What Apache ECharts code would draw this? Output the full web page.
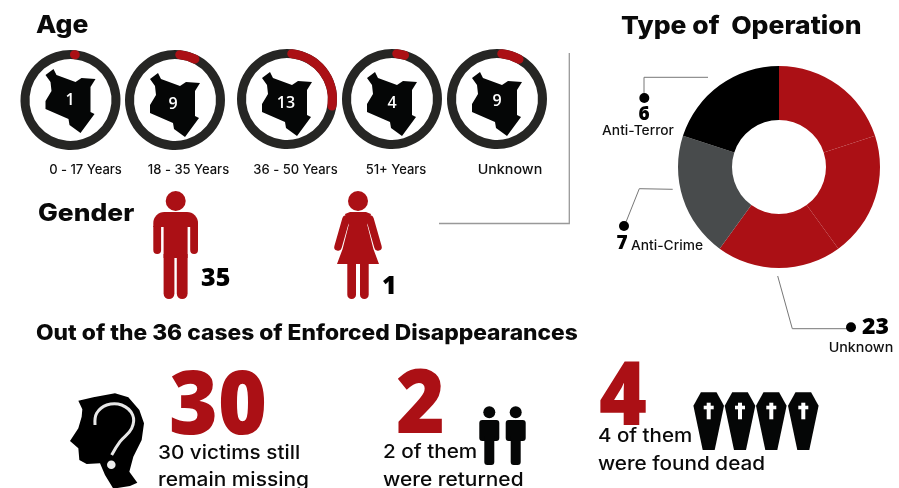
<!DOCTYPE html>
<html>
<head>
<meta charset="utf-8">
<title>Enforced Disappearances</title>
<script src="https://cdn.jsdelivr.net/npm/echarts@6/dist/echarts.min.js"></script>
<style>
  html, body { margin: 0; padding: 0; background: #fff; }
  #chart { width: 899px; height: 488px; }
</style>
</head>
<body>
<div id="chart"></div>
<script>
// age rings
var ageGroups = ['0 - 17 Years', '18 - 35 Years', '36 - 50 Years', '51+ Years', 'Unknown']
var ageCounts = [1, 9, 13, 4, 9]
// red arc length as drawn in the picture, degrees of the ring
var ageArcs = [1, 20, 93, 10, 23]

// type of operation
var operationNames = ['Unknown', 'Unknown', 'Unknown', 'Anti-Crime', 'Anti-Terror']
var operationSlices = [72, 72, 72, 72, 72]
var operationCounts = { unknown: 23, crime: 7, terror: 6 }

var genderCounts = [35, 1]
var outcomeCounts = [30, 2, 4]

var RED = '#ab1015'
var DARK = '#262624'
var BLACK = '#050606'
var sliceColors = [RED, RED, RED, '#484b4c', '#000000']
var HEAD = 'Inter'
var BODY = 'Inter'
var NUM = '"Open Sans"'

var ringX = [70.5, 175, 287, 392, 497]
var ringY = [100, 100, 99, 99, 99]
var mapDy = [-4, 0, 0, 0, 0]
var numX = [70, 173, 286, 392, 497]
var numY = [100, 104, 103, 103, 101]
var ageLabelX = [85.5, 188.5, 295.5, 396, 510]
var ageLabelScale = [1, 1, 1, 1, 1.1]

// kenya outline, relative to ring centre
var kenya = [[-17,-27],[-14,-21],[5,-14],[11,-18],[25,-17],[20,-9],[20,16],[24,18],[10,37],[-1,29],[-2,23],[-25,13],[-25,5],[-19,-5],[-20,-14],[-25,-21]]

var g = []

function text(x, y, str, size, weight, family, color, align, sx) {
  g.push({
    type: 'text', x: x, y: y, z: 20, scaleX: sx || 1,
    style: {
      text: String(str), fontSize: size, fontWeight: weight, fontFamily: family,
      fill: color || '#0a0a0a', align: align || 'left', verticalAlign: 'middle'
    }
  })
}
function rect(x, y, w, h, r, color) {
  g.push({ type: 'rect', z: 10, shape: { x: x, y: y, width: w, height: h, r: r || 0 }, style: { fill: color } })
}
function circle(x, y, r, color) {
  g.push({ type: 'circle', z: 10, shape: { cx: x, cy: y, r: r }, style: { fill: color } })
}
function poly(points, color) {
  g.push({ type: 'polygon', z: 10, shape: { points: points }, style: { fill: color } })
}
function line(points, color, width, cap) {
  g.push({ type: 'polyline', z: 10, shape: { points: points }, style: { stroke: color, lineWidth: width, fill: null, lineCap: cap || 'butt' } })
}

// titles
text(36, 25.5, 'Age', 25, 800, HEAD, null, 'left', 1.06)
text(621, 26, 'Type of  Operation', 25, 800, HEAD, null, 'left', 1.06)
text(38, 213.5, 'Gender', 24, 800, HEAD, null, 'left', 1.1)
text(36, 334, 'Out of the 36 cases of Enforced Disappearances', 21.5, 800, HEAD, null, 'left', 1.06)

// age rings
var series = []
ageGroups.forEach(function (name, i) {
  series.push({
    type: 'gauge', center: [ringX[i], ringY[i]], radius: 50,
    startAngle: i === 0 ? 85 : 84, endAngle: i === 0 ? -275 : -276, min: 0, max: 360,
    axisLine: { lineStyle: { width: 9, color: [[1, DARK]] } },
    progress: { show: true, width: 9, roundCap: true, itemStyle: { color: RED } },
    pointer: { show: false }, axisTick: { show: false }, splitLine: { show: false },
    axisLabel: { show: false }, detail: { show: false }, title: { show: false },
    silent: true, animation: false,
    data: [{ value: ageArcs[i], name: name }]
  })
  var pts = kenya.map(function (p) { return [p[0] + ringX[i], p[1] + ringY[i] + mapDy[i]] })
  poly(pts, BLACK)
  text(numX[i], numY[i], ageCounts[i], 16, 600, NUM, '#fff', 'center')
  text(ageLabelX[i], 170, name, 13, 500, BODY, '#111', 'center', ageLabelScale[i])
})

// donut
series.push({
  type: 'pie', center: [779, 167], radius: [47, 101], startAngle: 90, silent: true,
  label: { show: false }, labelLine: { show: false }, animation: false,
  data: operationSlices.map(function (v, i) {
    return { value: v, name: operationNames[i], itemStyle: { color: sliceColors[i] } }
  })
})

// leaders
line([[708, 77.3], [644, 77.3], [644, 94]], '#777', 1)
circle(644.3, 98, 5, '#000')
text(644, 115, operationCounts.terror, 19, 800, NUM, '#000', 'center')
text(638, 131.5, 'Anti-Terror', 13, 500, BODY, '#111', 'center', 1.06)

line([[672.7, 189.3], [639.3, 188.7], [626, 222]], '#777', 1)
circle(624, 226, 5, '#000')
text(622, 244, operationCounts.crime, 19, 800, NUM, '#000', 'center')
text(631, 246, 'Anti-Crime', 13, 500, BODY, '#111', 'left', 1.06)

line([[777.7, 276], [792.3, 328.7], [848, 328.7]], '#777', 1)
circle(851, 327.3, 5, '#000')
text(862, 327, operationCounts.unknown, 23, 800, NUM, '#000')
text(861, 348, 'Unknown', 13, 500, BODY, '#111', 'center', 1.1)

// corner rule
line([[569.3, 53], [569.3, 223.5], [439, 223.5]], '#999', 1.3)

// man
circle(175.7, 201, 10, RED)
rect(153.3, 212, 44.7, 15, [11, 11, 0, 0], RED)
rect(153.3, 226, 7.8, 28, [0, 0, 4, 4], RED)
rect(190.2, 226, 7.8, 28, [0, 0, 4, 4], RED)
rect(163.6, 226, 24, 32, 0, RED)
rect(163.6, 254, 10.8, 45, [0, 0, 5.4, 5.4], RED)
rect(176.8, 254, 10.8, 45, [0, 0, 5.4, 5.4], RED)
text(201, 279, genderCounts[0], 25, 800, NUM, '#000')

// woman
circle(358, 201, 10, RED)
line([[346, 219], [338, 247]], RED, 7.5, 'round')
line([[370, 219], [378, 247]], RED, 7.5, 'round')
line([[349.3, 225], [343.3, 249]], '#fff', 1.4)
line([[366.7, 225], [372.7, 249]], '#fff', 1.4)
poly([[350, 212], [366, 212], [371, 214], [367.3, 225], [373.4, 249], [379, 264], [337, 264], [342.6, 249], [348.7, 225], [345, 214]], RED)
rect(347.3, 262, 8.7, 37, [0, 0, 4.3, 4.3], RED)
rect(360, 262, 8.7, 37, [0, 0, 4.3, 4.3], RED)
text(382, 287, genderCounts[1], 25, 800, NUM, '#000')

// outcomes
text(169, 408.5, outcomeCounts[0], 88, 800, NUM, RED, 'left', 0.95)
text(396, 408, outcomeCounts[1], 88, 800, NUM, RED, 'left', 0.95)
text(599, 400, outcomeCounts[2], 88, 800, NUM, RED, 'left', 0.93)

text(158, 453, '30 victims still', 19, 500, BODY, null, 'left', 1.09)
text(158, 480, 'remain missing', 19, 500, BODY, null, 'left', 1.1)
text(383, 452, '2 of them', 19, 500, BODY, null, 'left', 1.09)
text(383, 480, 'were returned', 19, 500, BODY, null, 'left', 1.1)
text(598, 436, '4 of them', 19, 500, BODY, null, 'left', 1.08)
text(598, 464, 'were found dead', 19, 500, BODY, null, 'left', 1.09)

// head with question mark
var head = [[85,122],[130,112],[195,100],[235,112],[268,150],[282,190],[275,240],[250,290],[238,335],[262,368],[240,378],[190,386],[165,345],[150,310],[110,312],[88,300],[85,265],[60,243],[85,205],[95,170],[97,148]]
poly(head.map(function (p) { return [50 + p[0] / 3, 360 + p[1] / 3] }), '#000')
var mark = [[135,195],[140,160],[170,135],[215,135],[248,165],[245,205],[210,245],[185,285]]
g.push({
  type: 'polyline', z: 11,
  shape: { points: mark.map(function (p) { return [50 + p[0] / 3, 360 + p[1] / 3] }), smooth: 0.4 },
  style: { stroke: '#e8e8e8', lineWidth: 3, fill: null }
})
g.push({ type: 'circle', z: 11, shape: { cx: 111.3, cy: 464.7, r: 4.3 }, style: { fill: '#eee' } })

// two people
;[489.3, 515.7].forEach(function (cx) {
  circle(cx, 412.3, 6, BLACK)
  rect(cx - 10, 420, 20, 21, 3, BLACK)
  rect(cx - 5, 436, 10, 29, [0, 0, 3, 3], BLACK)
})

// coffins
;[708.7, 740, 771.3, 803.3].forEach(function (cx) {
  poly([[cx - 7.8, 392.3], [cx + 7.8, 392.3], [cx + 15.3, 405.7], [cx + 6, 450], [cx - 6, 450], [cx - 15.3, 405.7]], BLACK)
  g.push({ type: 'rect', z: 11, shape: { x: cx - 2, y: 402.7, width: 4, height: 16.6 }, style: { fill: '#fff' } })
  g.push({ type: 'rect', z: 11, shape: { x: cx - 5, y: 405.7, width: 10, height: 3.6 }, style: { fill: '#fff' } })
})

var chart = echarts.init(document.getElementById('chart'))
chart.setOption({
  backgroundColor: '#fff',
  animation: false,
  graphic: { elements: g },
  series: series
})
</script>
</body>
</html>
